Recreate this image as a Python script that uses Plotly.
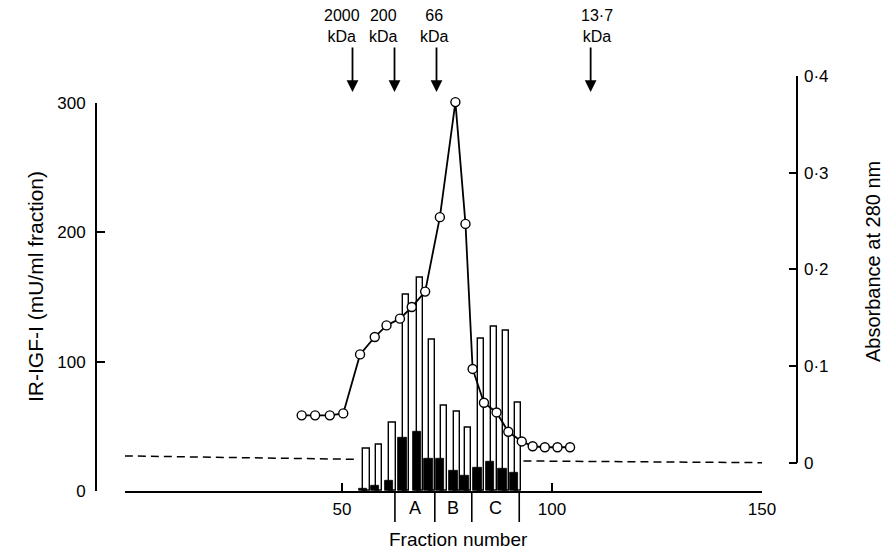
import plotly.graph_objects as go

# ---------------- data ----------------
# Absorbance at 280 nm (open circles)
abs_fraction = [40.4, 43.6, 47.1, 50.3, 54.3, 57.8, 60.6, 63.8, 66.6, 69.8, 73.3,
                77.0, 79.4, 81.1, 83.8, 86.8, 89.6, 92.8, 95.4, 98.3, 101.3, 104.3]
absorbance = [0.049, 0.049, 0.049, 0.051, 0.112, 0.130, 0.142, 0.149, 0.161, 0.177, 0.254,
              0.373, 0.247, 0.097, 0.062, 0.052, 0.032, 0.022, 0.017, 0.016, 0.016, 0.016]

# IR-IGF-I (mU/ml fraction): open bars and solid bars
igf_fraction = [55.4, 58.3, 61.6, 64.8, 68.2, 71.0, 73.8, 76.9, 79.6, 82.7, 85.7, 88.6, 91.4]
igf_open = [33, 36, 53, 152, 165, 117, 66, 61, 49, 118, 127, 124, 68]
igf_solid = [2, 4, 8, 41, 46, 25, 25, 16, 12, 18, 23, 17, 14]

# dashed absorbance baseline
baseline_fraction = [-1.7, 53.5, None, 93.2, 150.4]
baseline_abs = [0.007, 0.0035, None, 0.0018, 0.0]

# molecular-weight markers
marker_fraction = [52.5, 62.5, 72.5, 109.2]
marker_labels = ["2000<br>kDa", "200<br>kDa", "66<br>kDa", "13·7<br>kDa"]

# pools
pool_bounds = [62.6, 72.1, 80.9, 92.2]
pool_labels = ["A", "B", "C"]

# ticks
x_ticks = [50, 100, 150]
left_ticks = [0, 100, 200, 300]
right_ticks = [0, 0.1, 0.2, 0.3, 0.4]
right_ticktext = ["0", "0·1", "0·2", "0·3", "0·4"]

# ---------------- layout geometry ----------------
FONT = "Liberation Sans, Arial, Helvetica, sans-serif"
W, H = 886, 555
ML, MR, MT, MB = 60, 60, 40, 40
PW, PH = W - ML - MR, H - MT - MB


def pxx(p):
    return (p - ML) / PW


def pyy(p):
    return (H - MB - p) / PH


# pixel anchors of the drawing
X50_PX, X150_PX = 342.0, 762.0
XAX_LEFT_PX, XAX_RIGHT_PX = 125.0, 762.0
XAX_Y_PX = 491.0
LEFT_AX_PX, LEFT_TOP_PX = 96.0, 102.7
RIGHT_AX_PX, RIGHT_ZERO_PX, RIGHT_TOP_PX = 797.0, 462.7, 76.0
Y2_BOTTOM_PX = 480.0

ppf = (X150_PX - X50_PX) / 100.0
x_lo = 50 + (XAX_LEFT_PX - X50_PX) / ppf
x_hi = 50 + (XAX_RIGHT_PX - X50_PX) / ppf
ppa = (RIGHT_ZERO_PX - RIGHT_TOP_PX) / 0.4
y2_lo = -(Y2_BOTTOM_PX - RIGHT_ZERO_PX) / ppa

fig = go.Figure()

# bars (left axis)
fig.add_trace(go.Bar(
    x=igf_fraction, y=igf_open, offset=-0.3, width=1.45,
    marker=dict(color="white", line=dict(color="black", width=1.4)),
    xaxis="x", yaxis="y", showlegend=False))
fig.add_trace(go.Bar(
    x=igf_fraction, y=igf_solid, offset=-1.4, width=2.0,
    marker=dict(color="black", line=dict(color="black", width=0.8)),
    xaxis="x", yaxis="y", showlegend=False))

# absorbance (right axis)
fig.add_trace(go.Scatter(
    x=baseline_fraction, y=baseline_abs, mode="lines",
    line=dict(color="black", width=1.5, dash="8px,5px"),
    xaxis="x2", yaxis="y2", showlegend=False, connectgaps=False))
fig.add_trace(go.Scatter(
    x=abs_fraction, y=absorbance, mode="lines+markers",
    line=dict(color="black", width=1.8),
    marker=dict(symbol="circle", size=9, color="white",
                line=dict(color="black", width=1.4)),
    xaxis="x2", yaxis="y2", showlegend=False))

tickfont = dict(family=FONT, size=17, color="black")

shapes = []
# right axis line from 0 to 0.4
shapes.append(dict(type="line", xref="paper", yref="y2",
                   x0=pxx(RIGHT_AX_PX), x1=pxx(RIGHT_AX_PX),
                   y0=right_ticks[0], y1=right_ticks[-1],
                   line=dict(color="black", width=2)))
# pool dividers below axis
for b in pool_bounds:
    shapes.append(dict(type="line", xref="x", yref="paper",
                       x0=b, x1=b, y0=pyy(XAX_Y_PX), y1=pyy(522),
                       line=dict(color="black", width=1.6)))

annotations = []
for f, lab, dx in zip(marker_fraction, marker_labels, [-11, -11, -2, 6]):
    annotations.append(dict(x=f, y=pyy(92), xref="x", yref="paper",
                            text="", showarrow=True, ax=0, ay=-46,
                            arrowhead=2, arrowsize=1.3, arrowwidth=1.8,
                            arrowcolor="black", standoff=0))
    annotations.append(dict(x=f, y=pyy(26), xref="x", yref="paper",
                            text=lab, showarrow=False, xshift=dx,
                            xanchor="center", yanchor="middle",
                            font=dict(family=FONT, size=16, color="black")))
for i, lab in enumerate(pool_labels):
    annotations.append(dict(x=(pool_bounds[i] + pool_bounds[i + 1]) / 2,
                            y=pyy(508), xref="x", yref="paper",
                            text=lab, showarrow=False, yanchor="middle",
                            font=dict(family=FONT, size=18, color="black")))
annotations.append(dict(x=pxx(458), y=pyy(539), xref="paper", yref="paper",
                        text="Fraction number", showarrow=False,
                        xanchor="center", yanchor="middle",
                        font=dict(family=FONT, size=19, color="black")))
annotations.append(dict(x=pxx(35), y=pyy(287), xref="paper", yref="paper",
                        text="IR-IGF-I (mU/ml fraction)", showarrow=False,
                        textangle=-90, xanchor="center", yanchor="middle",
                        font=dict(family=FONT, size=21, color="black")))
annotations.append(dict(x=pxx(873), y=pyy(262), xref="paper", yref="paper",
                        text="Absorbance at 280 nm", showarrow=False,
                        textangle=-90, xanchor="center", yanchor="middle",
                        font=dict(family=FONT, size=20, color="black")))

fig.update_layout(
    width=W, height=H,
    margin=dict(l=ML, r=MR, t=MT, b=MB),
    paper_bgcolor="white", plot_bgcolor="rgba(0,0,0,0)",
    barmode="overlay", bargap=0,
    font=dict(family=FONT, color="black"),
    xaxis=dict(domain=[pxx(XAX_LEFT_PX), pxx(XAX_RIGHT_PX)],
               range=[x_lo, x_hi], anchor="y",
               showline=True, linecolor="black", linewidth=2,
               showgrid=False, zeroline=False,
               tickvals=[x_lo] + x_ticks, ticktext=[""] + [str(t) for t in x_ticks],
               ticks="inside", ticklen=8, tickwidth=2, tickcolor="black",
               tickfont=tickfont, ticklabelstandoff=2),
    yaxis=dict(domain=[pyy(XAX_Y_PX), pyy(LEFT_TOP_PX)],
               range=[left_ticks[0], left_ticks[-1]],
               anchor="free", position=pxx(LEFT_AX_PX), side="left",
               showline=True, linecolor="black", linewidth=2,
               showgrid=False, zeroline=False,
               tickvals=left_ticks, ticks="inside", ticklen=8, tickwidth=2,
               tickcolor="black", tickfont=tickfont, ticklabelstandoff=6),
    xaxis2=dict(domain=[pxx(XAX_LEFT_PX), pxx(XAX_RIGHT_PX)],
                range=[x_lo, x_hi], anchor="y2", visible=False),
    yaxis2=dict(domain=[pyy(Y2_BOTTOM_PX), pyy(RIGHT_TOP_PX)],
                range=[y2_lo, right_ticks[-1]],
                anchor="free", position=pxx(RIGHT_AX_PX), side="right",
                showline=False, showgrid=False, zeroline=False,
                tickvals=right_ticks, ticktext=right_ticktext,
                ticks="inside", ticklen=8, tickwidth=2, tickcolor="black",
                tickfont=tickfont, ticklabelstandoff=6),
    shapes=shapes, annotations=annotations,
)

fig.write_html(
    "out.html",
    config={"displayModeBar": False},
    post_script="document.body.style.margin='0px';document.body.style.overflow='hidden';",
)
